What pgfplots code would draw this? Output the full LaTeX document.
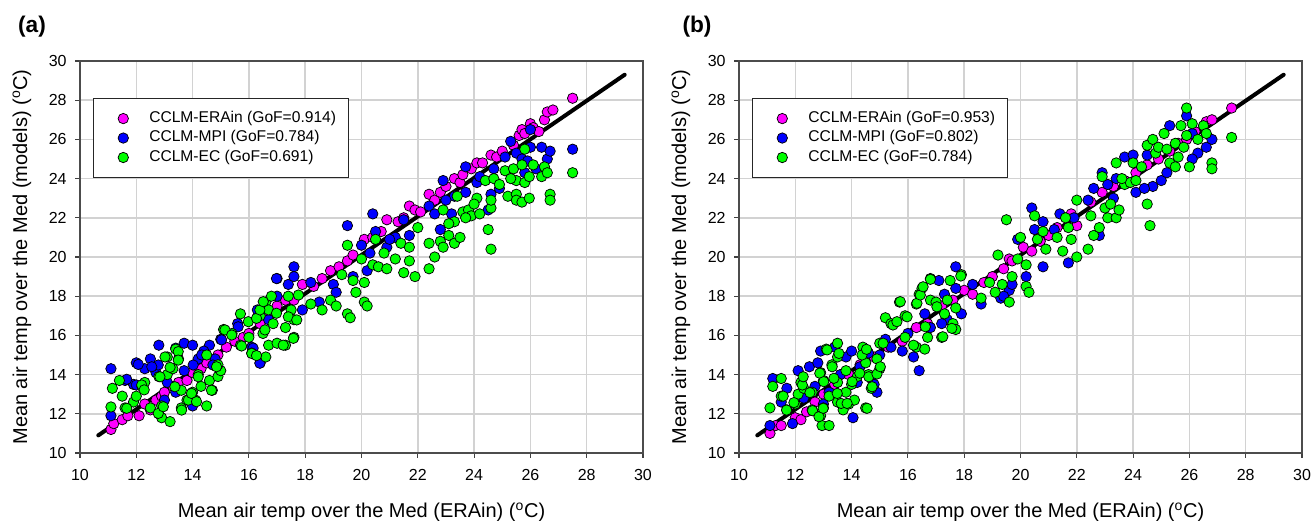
\documentclass[border=0pt]{standalone}
\usepackage{pgfplots}
\pgfplotsset{compat=1.18}
\usepackage{fontspec}
\setmainfont{Liberation Sans}
\definecolor{cmag}{RGB}{255,0,255}
\definecolor{cblue}{RGB}{0,0,255}
\definecolor{cgreen}{RGB}{0,255,0}
\definecolor{cgrid}{RGB}{210,210,210}
\pgfplotsset{
  medstyle/.style={
    scale only axis,
    width=422.25pt, height=294pt,
    xmin=10, xmax=30, ymin=10, ymax=30,
    xtick={10,12,...,30}, ytick={10,12,...,30},
    xtick pos=bottom, ytick pos=left,
    tick align=outside, major tick length=3.5pt,
    tick style={black!75, line width=0.8pt},
    grid=major,
    major grid style={cgrid, line width=1.1pt},
    axis line style={black!70, line width=1pt},
    /pgf/number format/assume math mode=true,
    tick label style={font=\fontsize{12}{14}\selectfont},
    xticklabel style={yshift=-5pt},
    yticklabel style={xshift=-3pt},
    label style={font=\fontsize{15}{18}\selectfont},
    xlabel={Mean air temp over the Med (ERAin) (\textsuperscript{o}C)},
    ylabel={Mean air temp over the Med (models) (\textsuperscript{o}C)},
    xlabel style={at={(axis description cs:0.5,-0.1505)}, anchor=center},
    ylabel style={at={(axis description cs:-0.103,0.5)}, anchor=center, rotate=0},
    legend cell align=left,
    legend style={at={(0.023,0.906)}, anchor=north west, draw=black!85, line width=1.1pt,
      inner xsep=6pt, inner ysep=8.5pt, row sep=1.6pt,
      font=\fontsize{11.7}{14}\selectfont,
      nodes={inner xsep=3.3pt, inner ysep=1pt, text height=8.4pt, text depth=2.6pt}},
  },
  mk/.style={only marks, mark=*, mark size=3.9pt, mark options={fill=#1, draw=black, line width=0.55pt},
    legend image code/.code={\path (0cm,0cm) (1.1cm,0cm); \draw[##1,only marks] plot coordinates {(0.55cm,0cm)};}},
}
\begin{document}
\begin{tikzpicture}
\useasboundingbox (0,0) rectangle (983.25pt,390.75pt);
\node[font=\fontsize{17}{20}\selectfont\bfseries] at (24pt,370.5pt) {(a)};
\node[font=\fontsize{17}{20}\selectfont\bfseries] at (522.75pt,370.5pt) {(b)};
% ---------------- panel (a)
\begin{axis}[medstyle, at={(60pt,51pt)}, anchor=south west]
\addplot[mk=cmag] coordinates {
(11.1,11.2)(11.2,11.5)(11.5,11.7)(11.7,11.9)(12.1,11.9)(12.3,12.5)(12.5,12.2)(12.7,12.7)(12.9,12.9)(13.0,13.1)
(13.3,13.4)(13.5,13.6)(13.8,13.7)(14.0,14.1)(14.3,14.3)(14.5,14.6)(14.9,15.0)(15.2,15.4)(15.5,15.7)(15.8,15.9)
(16.0,16.1)(16.4,16.6)(16.7,16.9)(17.0,17.5)(17.3,17.8)(17.6,17.8)(17.9,18.6)(18.3,18.5)(18.6,18.9)(18.9,19.3)
(19.2,19.5)(19.5,19.8)(19.7,20.1)(20.1,20.9)(20.4,21.0)(20.7,21.3)(20.9,21.9)(21.3,21.8)(21.5,22.0)(21.7,22.6)
(21.9,22.4)(22.1,22.3)(22.4,23.2)(22.6,22.9)(22.8,23.3)(23.0,23.6)(23.3,24.0)(23.5,23.8)(23.6,24.2)(23.9,24.5)
(24.1,24.8)(24.3,24.8)(24.6,25.2)(24.8,25.1)(25.0,25.4)(25.4,25.7)(25.6,26.2)(25.7,26.5)(25.8,26.3)(26.0,26.8)
(26.1,26.6)(26.3,26.4)(26.5,27.0)(26.6,27.4)(26.8,27.5)(27.5,28.1)
};
\addlegendentry{CCLM-ERAin (GoF=0.914)}
\addplot[mk=cblue] coordinates {
(11.1,14.3)(11.1,11.9)(11.6,13.7)(12.0,14.6)(12.3,14.3)(12.5,14.8)(11.9,13.5)(12.8,15.5)(13.4,15.35)(13.7,15.6)
(14.0,15.5)(14.6,15.5)(14.4,15.2)(14.0,12.4)(13.0,12.7)(12.7,14.1)(13.1,13.6)(13.4,13.1)(13.7,14.2)(14.2,14.8)
(14.8,14.8)(15.0,15.8)(16.1,15.4)(16.4,14.6)(15.6,16.6)(16.7,16.8)(16.3,17.3)(17.0,18.0)(17.0,18.9)(17.4,18.6)
(17.6,19.5)(17.6,19.0)(17.9,17.3)(18.2,18.7)(18.5,17.7)(19.0,18.6)(19.1,18.2)(19.5,21.6)(19.7,19.0)(20.0,20.6)
(20.2,19.3)(20.4,22.2)(20.3,20.2)(20.9,20.5)(21.2,21.0)(21.5,21.9)(21.7,21.1)(22.4,22.6)(22.6,22.2)(22.9,23.9)
(22.8,21.4)(23.2,22.2)(23.3,23.1)(23.7,24.6)(23.7,23.3)(24.1,23.8)(24.5,22.4)(24.6,23.2)(24.7,24.5)(24.9,23.5)
(25.3,25.9)(25.5,25.3)(25.8,24.3)(26.0,25.6)(26.0,26.5)(26.4,25.6)(26.6,25.0)(26.7,25.4)(27.5,25.5)(25.7,25.0)
(25.1,25.1)(11.66,13.76)(12.07,14.52)(15.03,15.77)(15.62,16.44)(16.98,18.9)(16.39,14.58)(16.15,15.35)(12.78,14.49)
(12.55,14.4)(12.0,13.47)(14.02,14.49)(14.32,15.0)(14.72,14.49)(20.5,21.3)(21.0,20.9)(23.0,22.9)(24.2,24.1)
(25.9,24.9)(26.2,24.5)
};
\addlegendentry{CCLM-MPI (GoF=0.784)}
\addplot[mk=cgreen] coordinates {
(11.1,12.35)(11.15,13.3)(11.4,13.7)(11.5,12.9)(11.6,12.3)(11.9,12.6)(12.0,12.9)(12.2,13.4)(12.3,13.6)(12.5,12.3)
(12.8,12.0)(12.9,11.8)(13.2,11.6)(12.9,12.4)(12.8,13.9)(13.1,14.0)(13.1,14.9)(13.4,15.3)(13.5,14.8)(13.3,14.3)
(13.6,13.2)(13.6,12.3)(13.8,12.7)(14.0,13.1)(14.1,12.7)(14.2,14.0)(14.3,13.4)(14.5,12.4)(14.6,13.7)(14.7,13.2)
(14.9,13.9)(15.0,14.2)(14.9,14.5)(14.5,15.0)(15.1,16.3)(15.4,16.1)(15.7,15.5)(15.7,17.1)(16.0,15.9)(16.1,15.1)
(16.4,17.0)(16.5,16.1)(16.6,14.9)(16.7,15.5)(16.6,17.7)(16.8,18.0)(16.7,17.3)(17.0,15.6)(17.3,15.5)(17.3,16.4)
(17.4,18.0)(17.5,17.3)(17.6,15.9)(17.6,16.8)(18.2,17.6)(18.6,17.3)(18.9,17.8)(19.1,17.5)(19.3,19.1)(19.5,17.1)
(19.6,16.9)(19.5,20.6)(19.7,18.8)(19.8,18.2)(20.1,17.7)(20.2,17.5)(20.1,18.7)(20.0,19.9)(20.4,19.6)(20.5,20.9)
(20.6,19.5)(20.9,19.4)(20.8,20.2)(21.2,19.9)(21.4,20.7)(21.5,19.2)(21.7,19.8)(21.7,20.5)(21.9,19.0)(22.0,21.5)
(22.4,19.4)(22.4,20.7)(22.6,20.0)(22.8,20.8)(22.9,20.5)(22.9,22.4)(23.1,21.1)(23.3,20.7)(23.3,21.8)(23.4,23.1)
(23.5,21.0)(23.6,22.3)(23.8,22.4)(23.9,22.1)(24.1,23.0)(24.2,22.2)(24.4,23.9)(24.5,21.4)(24.6,20.4)(24.6,22.5)
(24.6,22.9)(24.7,24.0)(24.9,23.7)(25.1,24.4)(25.2,23.1)(25.4,24.5)(25.5,23.9)(25.5,23.2)(25.5,22.9)(25.7,22.8)
(25.7,24.7)(25.8,23.8)(25.8,25.5)(25.96,23.0)(25.96,24.1)(26.1,24.7)(26.4,24.1)(26.5,24.6)(26.6,24.3)(26.7,23.2)
(26.7,22.9)(27.5,24.3)
(11.66,12.28)(12.19,13.47)(12.28,13.22)(12.78,12.02)(12.96,12.36)(12.84,13.89)(13.02,14.9)(13.2,14.37)
(13.49,15.17)(13.49,14.74)(13.37,13.38)(13.61,12.19)(13.85,12.7)(13.96,13.04)(14.2,13.89)(14.14,12.62)
(14.67,13.2)(14.85,14.4)(15.15,16.28)(15.39,16.02)(15.74,15.46)(15.98,16.7)(16.27,16.87)(16.1,15.08)
(16.27,14.97)(16.39,17.3)(16.51,17.72)(16.57,16.28)(16.86,16.6)(16.98,17.13)(17.22,15.5)(17.4,16.95)
(17.58,15.85)(17.7,16.79)(17.76,18.06)(23.7,22.0)(24.0,22.7)(25.3,24.0)(23.1,21.7)
};
\addlegendentry{CCLM-EC (GoF=0.691)}
\addplot[black, line width=3pt, line cap=round, forget plot] coordinates {(10.65,10.9) (29.35,29.3)};
\end{axis}
% ---------------- panel (b)
\begin{axis}[medstyle, at={(554.25pt,51pt)}, anchor=south west]
\addplot[mk=cmag] coordinates {
(11.1,11.0)(11.3,11.4)(11.5,11.4)(12.0,11.8)(12.2,11.7)(12.4,12.1)(12.7,12.6)(13.0,13.0)(13.4,13.5)(13.9,14.0)
(14.3,14.5)(14.8,14.9)(15.3,15.4)(15.8,15.7)(16.3,16.4)(16.7,16.6)(17.2,17.5)(17.6,17.8)(18.0,18.3)(18.3,18.1)
(18.7,18.7)(19.0,19.0)(19.4,19.4)(19.6,19.9)(19.7,19.8)(20.1,20.5)(20.4,20.3)(20.7,20.8)(21.0,21.1)(21.3,21.5)
(21.8,22.2)(22.0,21.6)(22.5,22.8)(22.9,23.3)(23.3,23.6)(23.7,23.9)(24.1,24.3)(24.5,24.7)(24.9,25.0)(25.3,25.4)
(25.6,25.8)(25.9,26.0)(26.2,26.4)(26.6,26.9)(26.8,27.0)(27.5,27.6)
};
\addlegendentry{CCLM-ERAin (GoF=0.953)}
\addplot[mk=cblue] coordinates {
(11.2,13.8)(11.1,11.4)(11.5,12.6)(11.7,13.3)(11.9,11.5)(12.1,14.2)(12.5,14.4)(12.7,13.4)(12.9,15.2)(13.0,12.5)
(13.2,13.1)(13.4,15.4)(13.8,14.9)(14.05,11.8)(14.0,15.2)(14.3,14.4)(14.6,15.1)(14.7,13.8)(14.9,13.1)(14.8,13.5)
(15.2,15.8)(15.4,15.4)(15.8,15.2)(16.0,16.1)(16.2,14.9)(16.4,14.2)(16.6,17.1)(16.8,16.4)(17.1,18.8)(17.3,18.1)
(17.4,16.8)(17.7,19.5)(17.7,18.4)(17.9,17.1)(18.3,18.6)(18.6,17.6)(19.3,17.9)(19.6,18.3)(19.7,18.6)(19.9,20.9)
(20.2,19.0)(20.4,22.5)(20.5,21.4)(20.8,19.5)(20.8,21.8)(21.4,22.2)(21.7,19.7)(21.9,22.0)(22.4,22.9)(22.6,23.5)
(22.8,21.1)(22.9,24.3)(23.1,23.7)(23.4,24.0)(23.7,25.1)(24.0,25.2)(24.1,23.3)(24.5,25.2)(24.7,23.6)(25.0,23.9)
(25.2,24.3)(25.3,26.7)(25.9,27.2)(26.1,26.3)(26.3,25.3)(26.6,25.6)(26.8,26.0)(26.1,25.0)
(12.3,12.8)(12.8,14.6)(13.6,14.0)(14.2,13.6)(15.0,15.0)(17.2,16.6)(19.4,18.0)(21.2,21.4)(23.3,23.0)(24.4,23.5)
};
\addlegendentry{CCLM-MPI (GoF=0.802)}
\addplot[mk=cgreen] coordinates {
(11.1,12.3)(11.2,13.4)(11.5,13.8)(11.5,12.9)(11.7,12.2)(12.0,12.5)(12.1,13.0)(12.2,13.6)(12.3,13.3)(12.6,13.1)
(12.6,12.2)(12.9,11.9)(12.95,11.4)(13.0,12.3)(13.1,15.3)(12.9,14.1)(13.0,13.7)(13.2,11.4)(13.2,12.9)(13.3,14.5)
(13.5,13.6)(13.5,15.6)(13.5,14.9)(13.5,12.6)(13.7,12.2)(13.8,14.2)(13.8,13.1)(13.9,12.5)(14.0,13.5)(14.1,12.7)
(14.2,13.9)(14.4,15.4)(14.5,14.6)(14.5,12.3)(14.6,14.0)(14.7,13.3)(14.9,14.8)(15.0,14.3)(15.0,15.6)(15.2,16.9)
(15.4,16.6)(15.7,17.7)(15.9,15.9)(15.9,17.0)(16.3,15.4)(16.3,17.6)(16.4,18.1)(16.5,18.4)(16.6,15.3)(16.7,15.9)
(16.8,17.8)(16.8,18.9)(17.0,17.7)(17.2,15.9)(17.3,17.1)(17.4,17.8)(17.5,18.8)(17.6,16.6)(17.7,16.3)(17.7,17.4)
(17.9,19.1)(18.6,17.9)(18.9,18.7)(19.1,18.2)(19.2,20.1)(19.35,18.6)(19.5,21.9)(19.6,17.7)(19.7,19.0)(19.9,19.9)
(20.0,21.0)(20.2,19.6)(20.2,18.5)(20.3,18.2)(20.5,22.1)(20.6,20.9)(20.8,21.3)(20.9,20.4)(21.3,21.0)(21.5,20.3)
(21.6,22.0)(21.7,21.5)(21.8,20.9)(22.0,20.0)(22.0,22.9)(22.4,20.4)(22.5,22.1)(22.6,21.1)(22.8,21.5)(22.9,24.1)
(23.0,22.5)(23.1,22.0)(23.2,22.7)(23.4,24.8)(23.4,22.0)(23.5,22.4)(23.7,23.7)(23.9,23.8)(24.0,24.8)(24.1,23.9)
(24.5,22.7)(24.6,21.6)(24.5,25.7)(24.7,26.0)(24.8,25.3)(24.9,25.6)(25.1,26.3)(25.3,24.8)(25.5,25.8)(25.5,24.6)
(25.7,26.7)(25.8,25.6)(25.9,27.6)(26.0,24.6)(26.1,26.8)(26.3,26.0)(26.5,26.7)(26.6,26.3)(26.8,24.8)(26.8,24.5)
(27.5,26.1)(25.6,25.1)
(11.57,12.9)(11.69,12.19)(11.95,12.57)(12.25,13.47)(12.28,13.89)(12.52,13.08)(12.61,12.16)(12.84,11.85)
(12.99,12.28)(12.87,14.07)(13.01,13.64)(13.13,15.26)(13.31,14.4)(13.55,15.08)(13.37,13.81)(13.49,13.04)
(13.63,12.53)(13.84,12.53)(14.02,13.64)(14.29,14.07)(14.37,15.0)(14.53,15.29)(14.55,12.28)(14.61,13.89)
(14.73,13.38)(14.9,14.03)(15.02,14.4)(15.12,15.6)(15.47,16.53)(15.61,16.7)(15.73,17.72)(15.97,16.95)
(16.2,15.5)(16.32,17.64)(16.44,18.06)(16.54,18.48)(16.62,16.44)(16.8,18.86)(17.03,17.46)(17.24,15.93)
(17.56,16.36)(17.88,19.03)(23.6,24.0)(24.3,24.6)(25.2,25.5)(25.9,26.2)
};
\addlegendentry{CCLM-EC (GoF=0.784)}
\addplot[black, line width=3pt, line cap=round, forget plot] coordinates {(10.65,10.9) (29.35,29.3)};
\end{axis}
\end{tikzpicture}
\end{document}
